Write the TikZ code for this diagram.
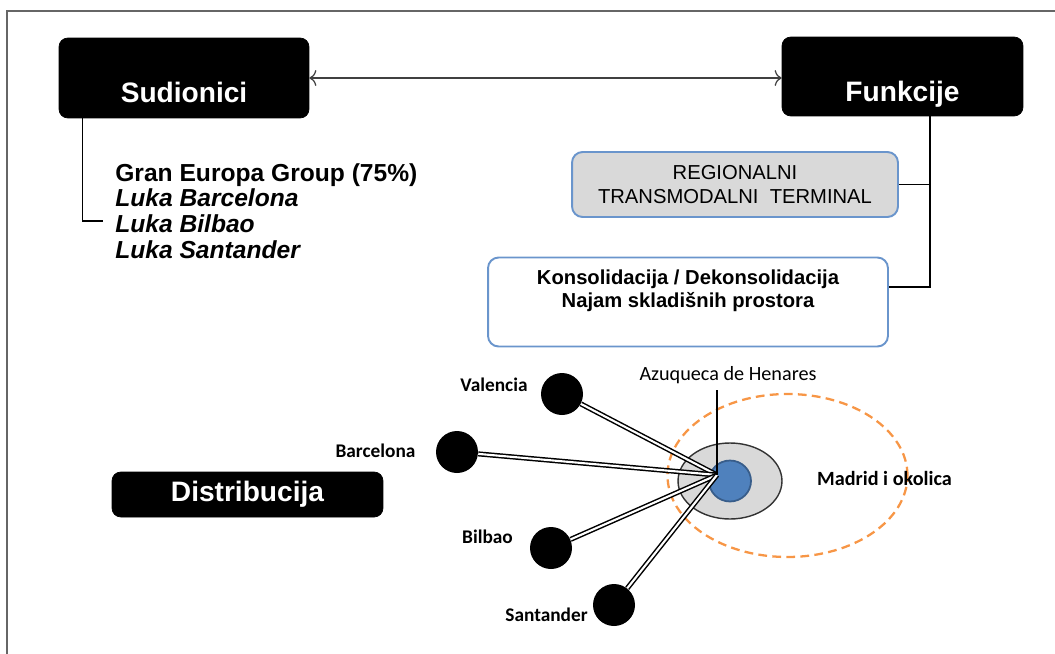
\documentclass[tikz,border=0pt]{standalone}
\usepackage{fontspec}
\setmainfont{Liberation Sans}
\newfontfamily\calib{Carlito}
\usetikzlibrary{shapes.geometric,arrows.meta,positioning}

\definecolor{boxblue}{HTML}{6A95CC}
\definecolor{hubblue}{HTML}{4F81BD}
\definecolor{hubedge}{HTML}{385D8A}
\definecolor{zoneorange}{HTML}{F79646}
\definecolor{hubgray}{HTML}{D9D9D9}

\begin{document}
\begin{tikzpicture}[x=0.02cm, y=-0.02cm,
    headbox/.style={fill=black, draw=black, rounded corners=5pt, text=white,
        font=\fontsize{16}{18}\selectfont\bfseries},
    funbox/.style={draw=boxblue, line width=1.1pt, rounded corners=6pt},
    city/.style={circle, fill=black, minimum size=0.84cm, inner sep=0pt},
    cityname/.style={font=\calib\fontsize{11}{13}\selectfont\bfseries},
    rail/.style={draw=black, line width=0.85pt, double=white, double distance=1.2pt}]
    \useasboundingbox (0,0) rectangle (1055,653);
    \draw[line width=1.1pt, draw=black!60] (7,670) -- (7,11) -- (1070,11);

    % top row
    \node[headbox, minimum width=5cm, minimum height=1.6cm, text height=28pt, text depth=0pt] (sud) at (184,78) {Sudionici};
    \node[headbox, minimum width=4.82cm, minimum height=1.58cm, text height=28pt, text depth=0pt] (fun) at (902.5,76.5) {Funkcije};
    \draw[<->, >={To[length=4pt,width=9pt]}, line width=0.7pt, draw=black!75] (sud.east) -- (sud.east -| fun.west);

    % participants
    \node[anchor=west, align=left, inner sep=0pt, font=\fontsize{14}{14.7}\selectfont\bfseries] (part) at (115,211)
        {Gran Europa Group (75\%)\\ \itshape Luka Barcelona\\ \itshape Luka Bilbao\\ \itshape Luka Santander};
    \coordinate (sudend) at (103,221);
    \draw[line width=0.6pt] ([xshift=0.48cm]sud.south west) |- (sudend);

    % functions
    \node[funbox, fill=hubgray, minimum width=6.52cm, minimum height=1.3cm, align=center,
        font=\fontsize{11.5}{13.6}\selectfont] (reg) at (735,184.5) {REGIONALNI\\ TRANSMODALNI\ \ TERMINAL};
    \node[funbox, fill=white, minimum width=8cm, minimum height=1.78cm] (kon) at (688,302) {};
    \node[align=center, font=\fontsize{11.5}{13}\selectfont\bfseries] (kontxt) at (688,291)
        {Konsolidacija / Dekonsolidacija\\ Najam skladišnih prostora};
    \coordinate (fk) at (930,287);
    \draw[line width=0.7pt] (fun.south -| fk) -- (fk) -- (fk -| kon.east);
    \draw[line width=0.7pt] (reg.east) -- (reg.east -| fk);

    % distribution
    \node[headbox, minimum width=5.42cm, minimum height=0.9cm] (dis) at (247.5,494.5) {Distribucija};

    \node[ellipse, draw=zoneorange, dashed, dash pattern=on 5pt off 3pt, line width=1.3pt,
        minimum width=4.8cm, minimum height=3.26cm] (zone) at (787.5,475.5) {};
    \node[ellipse, draw=black!80, fill=hubgray, line width=0.8pt,
        minimum width=2.08cm, minimum height=1.52cm] (term) at (730,481) {};
    \node[ellipse, draw=hubedge, fill=hubblue, line width=1pt,
        minimum width=0.84cm, minimum height=0.82cm, inner sep=0pt] (core) at (730,481) {};
    \coordinate (hub) at (717,475);

    \node[city] (val) at (562,394) {};
    \node[city] (bar) at (457,452) {};
    \node[city] (bil) at (551,548) {};
    \node[city] (san) at (614,605) {};
    \node[cityname] (lval) at (494,385) {Valencia};
    \node[cityname] (lbar) at (375.5,451) {Barcelona};
    \node[cityname] (lbil) at (487.5,537) {Bilbao};
    \node[cityname] (lsan) at (546.5,615) {Santander};

    \foreach \c in {val,bar,bil,san}
        \draw[rail] (\c) -- (hub);

    \node[font=\calib\fontsize{11.5}{13}\selectfont] (azu) at (728,375) {Azuqueca de Henares};
    \draw[line width=0.7pt] (hub) -- (hub |- azu.south);
    \node[font=\calib\fontsize{11.5}{13}\selectfont\bfseries] (mad) at (884.5,478) {Madrid i okolica};
\end{tikzpicture}
\end{document}
